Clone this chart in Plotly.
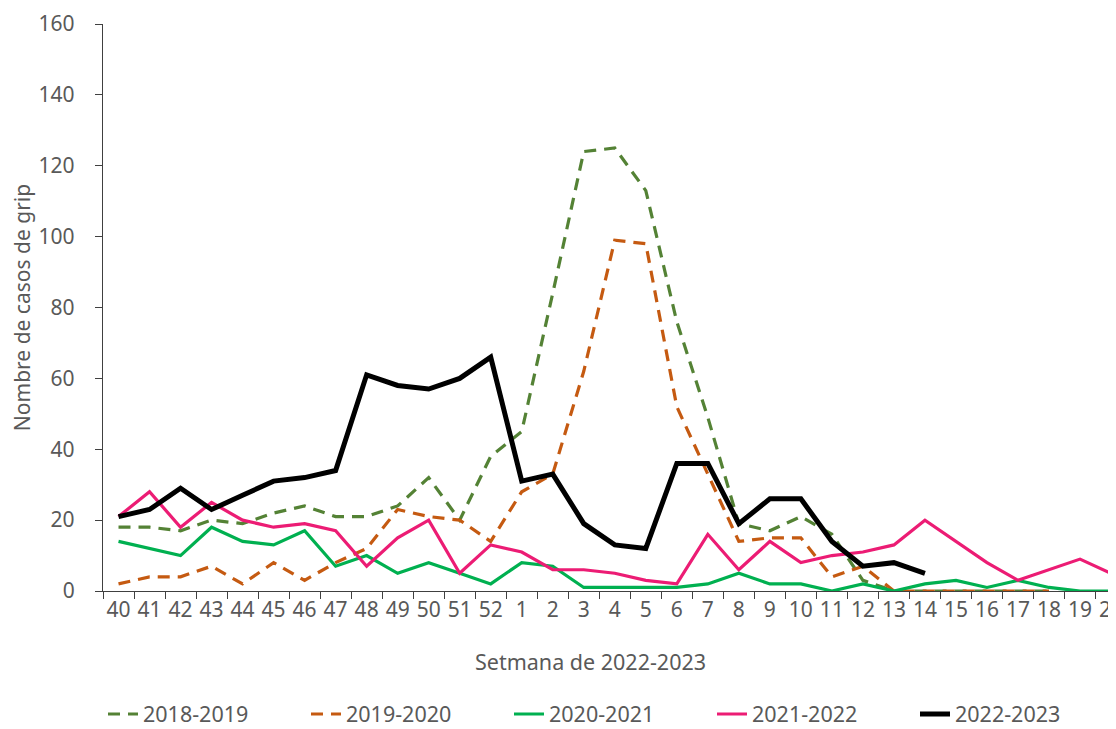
import plotly.graph_objects as go

weeks = [str(w) for w in list(range(40, 53)) + list(range(1, 21))]

s2018_2019 = [18, 18, 17, 20, 19, 22, 24, 21, 21, 24, 32, 20, 38,
              45, 84, 124, 125, 113, 76, 49, 19, 17, 21, 16, 3, 0, 0, 0, 0, 0, 0, None, None]
s2019_2020 = [2, 4, 4, 7, 2, 8, 3, 8, 12, 23, 21, 20, 14,
              28, 33, 62, 99, 98, 52, 33, 14, 15, 15, 4, 7, 0, 0, 0, 0, 0, 0, None, None]
s2020_2021 = [14, 12, 10, 18, 14, 13, 17, 7, 10, 5, 8, 5, 2,
              8, 7, 1, 1, 1, 1, 2, 5, 2, 2, 0, 2, 0, 2, 3, 1, 3, 1, 0, 0]
s2021_2022 = [21, 28, 18, 25, 20, 18, 19, 17, 7, 15, 20, 5, 13,
              11, 6, 6, 5, 3, 2, 16, 6, 14, 8, 10, 11, 13, 20, 14, 8, 3, 6, 9, 5]
s2022_2023 = [21, 23, 29, 23, 27, 31, 32, 34, 61, 58, 57, 60, 66,
              31, 33, 19, 13, 12, 36, 36, 19, 26, 26, 14, 7, 8, 5, None, None, None, None, None, None]

y_ticks = [0, 20, 40, 60, 80, 100, 120, 140, 160]

series = [
    ("2018-2019", s2018_2019, "#548235", 3.2, "12px,8px"),
    ("2019-2020", s2019_2020, "#C55A11", 3.2, "12px,8px"),
    ("2020-2021", s2020_2021, "#00B050", 3.2, "solid"),
    ("2021-2022", s2021_2022, "#EC1C74", 3.2, "solid"),
    ("2022-2023", s2022_2023, "#000000", 5, "solid"),
]

fig = go.Figure()
for name, vals, color, width, dash in series:
    fig.add_trace(go.Scatter(
        x=weeks, y=vals, name=name, mode="lines",
        line=dict(color=color, width=width, dash=dash),
        connectgaps=False,
    ))

font_family = "Noto Sans, Open Sans, sans-serif"
grey = "#595959"

# The page body adds an 8px offset, so the figure is sized to end at the window edge.
fig.update_layout(
    width=1108, height=721,
    margin=dict(l=95, r=0, t=16, b=138, autoexpand=False),
    paper_bgcolor="white", plot_bgcolor="white",
    font=dict(family=font_family, color=grey, size=20),
    showlegend=True,
    legend=dict(
        orientation="h", x=0.0, xanchor="left", y=-0.217, yanchor="middle",
        font=dict(size=21.5, color=grey), entrywidth=158, traceorder="normal",
    ),
    annotations=[dict(
        text="Setmana de 2022-2023", xref="paper", yref="paper",
        x=0.481, y=-0.125, xanchor="center", yanchor="middle",
        showarrow=False, font=dict(size=21.5, color=grey),
    )],
)

fig.update_xaxes(
    type="category", categoryorder="array", categoryarray=weeks,
    range=[-0.5, 32.16], showgrid=False, zeroline=False, automargin=False,
    showline=True, linecolor="#404040", linewidth=1.3,
    ticks="outside", tickson="boundaries", ticklen=7, tickcolor="#404040",
    tickangle=0, tickfont=dict(size=21, color=grey),
)
fig.update_yaxes(
    range=[0, 160], tickvals=y_ticks, showgrid=False, zeroline=False, automargin=False,
    showline=True, linecolor="#404040", linewidth=1.3,
    ticks="outside", ticklen=7, tickcolor="#404040",
    tickfont=dict(size=21, color=grey), ticklabelstandoff=16,
    title=dict(text="Nombre de casos de grip", font=dict(size=21, color=grey), standoff=3),
)

fig.write_html("out.html")
